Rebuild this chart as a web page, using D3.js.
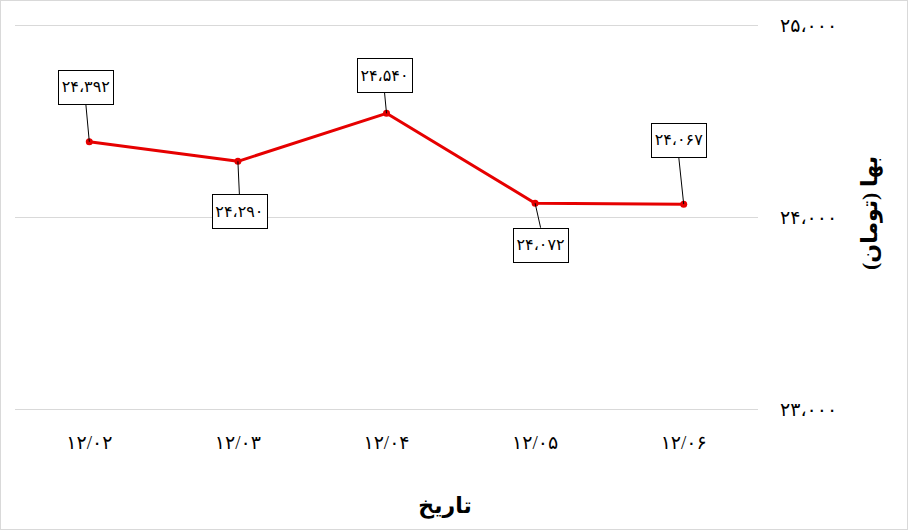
<!DOCTYPE html>
<html>
<head>
<meta charset="utf-8">
<script src="https://cdn.jsdelivr.net/npm/d3@7"></script>
<style>
  html, body { margin: 0; padding: 0; background: #fff; }
  svg { display: block; font-family: "Liberation Serif", "DejaVu Sans", serif; }
</style>
</head>
<body>
<svg id="svg" width="908" height="530"></svg>
<script>
const dates = ['۱۲/۰۲', '۱۲/۰۳', '۱۲/۰۴', '۱۲/۰۵', '۱۲/۰۶'];
const prices = [24392, 24290, 24540, 24072, 24067];
const yTicks = [23000, 24000, 25000];

const toFa = function(n) {
  const s = d3.format(',')(n).replace(/,/g, '،');
  return s.replace(/[0-9]/g, c => '۰۱۲۳۴۵۶۷۸۹'[+c]);
};

const svg = d3.select('#svg');
const W = 908, H = 530;
const plot = { left: 15, right: 758, top: 25, bottom: 409 };

// outer frame
svg.append('rect')
  .attr('x', 0.5).attr('y', 0.5)
  .attr('width', W - 1).attr('height', H - 1)
  .style('fill', '#fff')
  .style('stroke', '#d9d9d9');

const x = d3.scaleBand()
  .domain(dates)
  .range([plot.left, plot.right]);

const y = d3.scaleLinear()
  .domain([23000, 25000])
  .range([plot.bottom, plot.top]);

// grid
svg.append('g')
  .selectAll('line')
  .data(yTicks)
  .enter()
  .append('line')
  .attr('x1', plot.left)
  .attr('x2', plot.right)
  .attr('y1', d => Math.round(y(d)) + 0.5)
  .attr('y2', d => Math.round(y(d)) + 0.5)
  .style('stroke', '#d9d9d9')
  .style('stroke-width', 1);

// y tick labels (right side)
svg.append('g')
  .selectAll('text')
  .data(yTicks)
  .enter()
  .append('text')
  .attr('x', 780)
  .attr('y', d => y(d))
  .attr('dy', '0.35em')
  .attr('text-anchor', 'start')
  .style('font-size', '19px')
  .style('fill', '#000')
  .text(d => toFa(d));

// x tick labels
svg.append('g')
  .selectAll('text')
  .data(dates)
  .enter()
  .append('text')
  .attr('x', d => x(d) + x.bandwidth() / 2)
  .attr('y', 442)
  .attr('dy', '0.35em')
  .attr('text-anchor', 'middle')
  .style('font-size', '19px')
  .style('fill', '#000')
  .text(d => d);

// axis titles
svg.append('text')
  .attr('x', 445)
  .attr('y', 505)
  .attr('dy', '0.35em')
  .attr('text-anchor', 'middle')
  .style('font-size', '22px')
  .style('font-weight', 'bold')
  .text('تاریخ');

svg.append('text')
  .attr('transform', 'translate(869,213) rotate(-90)')
  .attr('dy', '0.35em')
  .attr('text-anchor', 'middle')
  .style('font-size', '22px')
  .style('font-weight', 'bold')
  .text('بها (تومان)');

// line
const pts = dates.map((d, i) => ({ d: d, v: prices[i] }));
const lineBuilder = d3.line()
  .x(p => x(p.d) + x.bandwidth() / 2)
  .y(p => y(p.v));

svg.append('path')
  .datum(pts)
  .attr('d', lineBuilder)
  .style('fill', 'none')
  .style('stroke', '#e60000')
  .style('stroke-width', 3)
  .style('stroke-linejoin', 'round');

svg.append('g')
  .selectAll('circle')
  .data(pts)
  .enter()
  .append('circle')
  .attr('cx', p => x(p.d) + x.bandwidth() / 2)
  .attr('cy', p => y(p.v))
  .attr('r', 3.5)
  .style('fill', '#e60000');

// data labels with leader lines (offsets of box centre from point)
const labelOffsets = [[-3.5, -55], [1.5, 50], [-2, -38], [5.5, 41.5], [-5, -64.5]];
const boxW = 55, boxH = 34;
const labels = svg.append('g');
pts.forEach((p, i) => {
  const px = x(p.d) + x.bandwidth() / 2;
  const py = y(p.v);
  const cx = px + labelOffsets[i][0];
  const cy = py + labelOffsets[i][1];
  const edgeY = labelOffsets[i][1] < 0 ? cy + boxH / 2 : cy - boxH / 2;
  labels.append('line')
    .attr('x1', px).attr('y1', py)
    .attr('x2', cx).attr('y2', edgeY)
    .style('stroke', '#000')
    .style('stroke-width', 1);
  labels.append('rect')
    .attr('x', Math.round(cx - boxW / 2) + 0.5)
    .attr('y', Math.round(cy - boxH / 2) + 0.5)
    .attr('width', boxW)
    .attr('height', boxH)
    .style('fill', '#fff')
    .style('stroke', '#000')
    .style('stroke-width', 1);
  labels.append('text')
    .attr('x', cx)
    .attr('y', cy)
    .attr('dy', '0.35em')
    .attr('text-anchor', 'middle')
    .style('font-size', '16px')
    .text(toFa(p.v));
});
</script>
</body>
</html>
